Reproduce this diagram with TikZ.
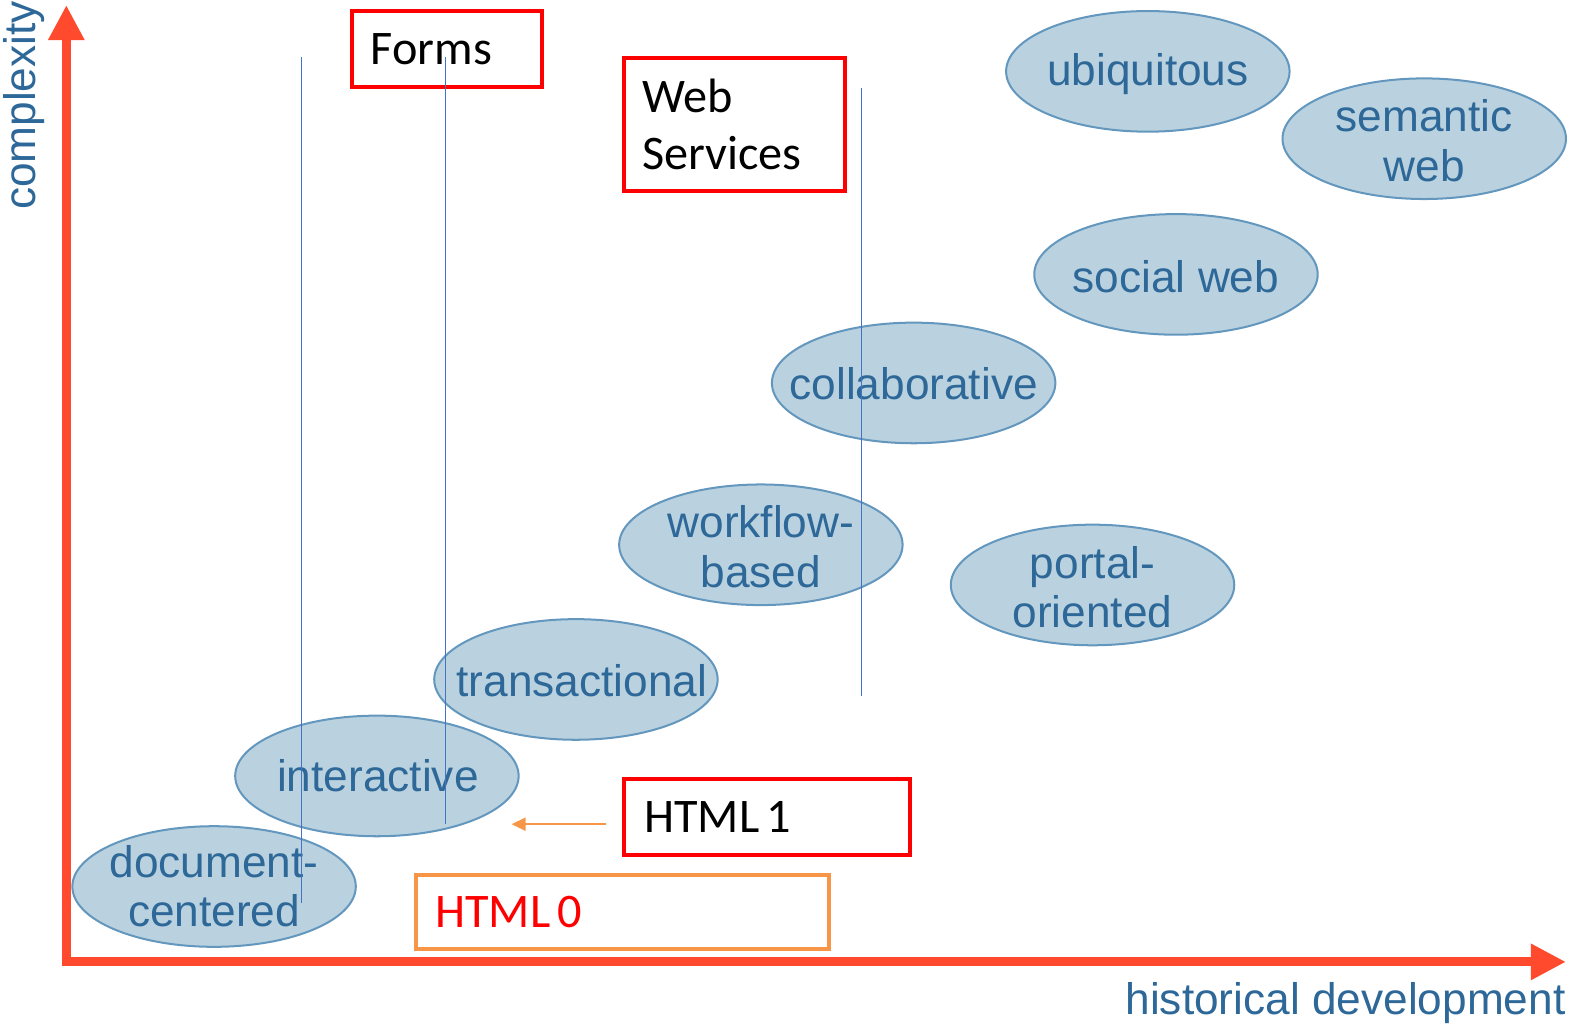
\documentclass[tikz,border=0pt]{standalone}
\usepackage{fontspec}
\setmainfont{Liberation Sans}
\newfontfamily\calib{Carlito}
\usetikzlibrary{shapes.geometric,arrows.meta}
\definecolor{axisred}{HTML}{FF4A2D}
\definecolor{ellfill}{HTML}{BAD2DF}
\definecolor{elldraw}{HTML}{6497BE}
\definecolor{elltext}{HTML}{2D6898}
\definecolor{guide}{HTML}{4472C4}
\definecolor{boxorange}{HTML}{F79646}
\tikzset{
  era/.style={ellipse, draw=elldraw, fill=ellfill, line width=1pt,
    minimum width=141pt, minimum height=60pt, inner sep=0pt},
  eratext/.style={text=elltext, align=center, inner sep=0pt,
    font=\fontsize{22}{24.5}\selectfont},
  axislabel/.style={text=elltext, inner sep=0pt, font=\fontsize{22}{24.5}\selectfont},
  axisline/.style={draw=axisred, line width=4.5pt, line join=miter,
    {Triangle[length=17.5pt,width=17pt]}-{Triangle[length=17.5pt,width=17pt]}},
  techbox/.style={draw=red, line width=2pt, rectangle, anchor=north west,
    align=left, inner ysep=0pt, font=\calib\fontsize{24}{28.5}\selectfont},
  guideline/.style={draw=guide, line width=0.75pt},
  pointer/.style={draw=boxorange, line width=1pt, -{Triangle[length=7pt,width=6.5pt]}}
}
\begin{document}
\begin{tikzpicture}[x=0.5pt,y=-0.5pt]
\useasboundingbox (0,0) rectangle (1568,1018);

% axes
\coordinate (ytop) at (66,5);
\coordinate (origin) at (66,957);
\coordinate (xend) at (1558,957);
\draw[axisline] (ytop) -- (origin) -- (xend);
\node[axislabel, rotate=90] (ylab) at (24,105) {complexity};
\node[axislabel, anchor=base east] (xlab) at (1558,1009) {historical development};

% stages of web applications
\node[era] (doc)    at (213,882)  {};
\node[era] (inter)  at (375,772)  {};
\node[era] (trans)  at (573,676)  {};
\node[era] (work)   at (757,542)  {};
\node[era] (collab) at (909,381)  {};
\node[era] (portal) at (1087,582) {};
\node[era] (social) at (1170,273) {};
\node[era] (ubiq)   at (1142,71)  {};
\node[era] (sem)    at (1417,138) {};

\node[eratext] (doc-t)    at (213,882)  {document-\\centered};
\node[eratext] (inter-t)  at (376,772)  {interactive};
\node[eratext] (trans-t)  at (579,677)  {transactional};
\node[eratext] (work-t)   at (757,544)  {workflow-\\based};
\node[eratext] (collab-t) at (909,382)  {collaborative};
\node[eratext] (portal-t) at (1087,584) {portal-\\oriented};
\node[eratext] (social-t) at (1170,275) {social web};
\node[eratext] (ubiq-t)   at (1142,74)  {ubiquitous};
\node[eratext] (sem-t)    at (1417,140) {semantic\\web};

% technology boxes
\node[techbox, minimum width=94.5pt, minimum height=38pt, text width=75.5pt, inner xsep=9.5pt]
  (forms) at (348,9) {Forms};
\node[techbox, minimum width=110pt, minimum height=66pt, text width=92pt, inner xsep=9pt]
  (ws) at (619,56) {Web\\Services};
\node[techbox, minimum width=142pt, minimum height=38pt, text width=122pt, inner xsep=10pt]
  (html1) at (619,773) {HTML\hspace{3.5pt}1};
\node[techbox, draw=boxorange, text=red, minimum width=205.5pt, minimum height=36.5pt,
  text width=186.5pt, inner xsep=9.5pt]
  (html0) at (412,869) {HTML\hspace{3.5pt}0};

% era boundaries
\draw[guideline] (300,57) -- (300,898);
\draw[guideline] (443,57) -- (443,820);
\draw[guideline] (857,88) -- (857,692);

% HTML 1 pointer
\coordinate (h1tail) at (603,820);
\coordinate (h1tip) at (509,820);
\draw[pointer] (h1tail) -- (h1tip);
\end{tikzpicture}
\end{document}
